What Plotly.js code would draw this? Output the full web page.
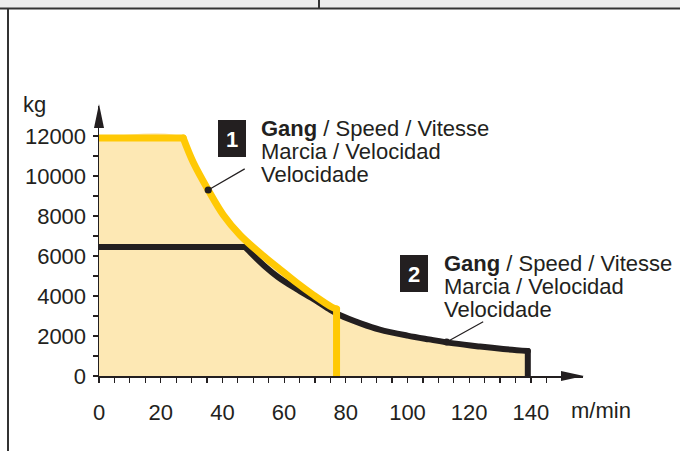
<!DOCTYPE html>
<html><head><meta charset="utf-8">
<script src="https://cdn.plot.ly/plotly-3.0.1.min.js"></script>
<style>
html,body{margin:0;padding:0;background:#fff}#chart{width:680px;height:451px}
.js-line{stroke-linecap:round !important;stroke-linejoin:round !important}
</style>
</head><body><div id="chart"></div>
<script>
// ---- data ----
const gear1Speed = [0, 27.3, 30.5, 35.4, 40.3, 45.7, 53.3, 58.7, 64.1, 69.5, 75.4, 77];
const gear1Load  = [11900, 11900, 10700, 9300, 8050, 7050, 6000, 5330, 4660, 4050, 3450, 3350];
const gear2Speed = [0, 47.3, 54, 58, 64, 70, 75, 78, 85, 91, 100, 107, 115, 123.5, 131, 139];
const gear2Load  = [6450, 6450, 5450, 4950, 4350, 3800, 3300, 3050, 2620, 2320, 2020, 1830, 1630, 1470, 1350, 1250];
const xTickVals = [0, 20, 40, 60, 80, 100, 120, 140];
const xTickText = ['0', '20', '40', '60', '80', '100', '120', '140'];
const xMinorVals = [0,5,10,15,20,25,30,35,40,45,50,55,60,65,70,75,80,85,90,95,100,105,110,115,120,125,130,135,140,145];
const yTickVals = [0, 2000, 4000, 6000, 8000, 10000, 12000];
const yTickText = ['0', '2000', '4000', '6000', '8000', '10000', '12000'];
const yMinorVals = [0,1000,2000,3000,4000,5000,6000,7000,8000,9000,10000,11000,12000];
const yUnit = 'kg';
const xUnit = 'm/min';
const gearNames = ['1', '2'];
const labelLines = ['<b>Gang</b> / Speed / Vitesse', 'Marcia / Velocidad', 'Velocidade'];
const pointer1 = {x: 35.4, y: 9300};
const pointer2 = {x: 112.7, y: 1700};

// ---- styling / layout ----
const W = 680, H = 451;
const M = {l: 99, r: 97, t: 106, b: 75};
const PW = W - M.l - M.r, PH = H - M.t - M.b;
const px = p => (p - M.l) / PW;           // pixel -> paper x
const py = p => (H - M.b - p) / PH;       // pixel -> paper y
const INK = '#231f20', YEL = '#ffc905', FILL = '#fde8b4';
const FONT = 'Liberation Sans, Arial, Helvetica, sans-serif';
const FS = 22;

// union fill: gear 1 envelope up to its end, then gear 2 beyond
const lastG1 = gear1Speed[gear1Speed.length - 1];
const fillX = gear1Speed.concat(gear2Speed.filter(v => v > lastG1));
const fillY = gear1Load.concat(gear2Load.filter((v, i) => gear2Speed[i] > lastG1));

// split a series into its flat part, its curved part and its final drop to zero
function seriesTraces(xs, ys, color, width) {
  let k = 0;
  while (k + 1 < ys.length && ys[k + 1] === ys[0]) k++;
  const n = xs.length - 1;
  const base = {type: 'scatter', mode: 'lines', hoverinfo: 'skip', cliponaxis: true};
  return [
    Object.assign({}, base, {x: xs.slice(0, k + 1), y: ys.slice(0, k + 1), line: {color, width, shape: 'linear'}}),
    Object.assign({}, base, {x: xs.slice(k), y: ys.slice(k), line: {color, width, shape: 'spline', smoothing: 1}}),
    Object.assign({}, base, {x: [xs[n], xs[n]], y: [ys[n], 0], line: {color, width, shape: 'linear'}})
  ];
}

const traces = [
  {x: fillX, y: fillY, type: 'scatter', mode: 'lines', fill: 'tozeroy', fillcolor: FILL,
   line: {width: 0, color: FILL, shape: 'spline', smoothing: 1}, hoverinfo: 'skip'}
].concat(seriesTraces(gear2Speed, gear2Load, INK, 6), seriesTraces(gear1Speed, gear1Load, YEL, 7));

const shapes = [
  {type: 'rect', xref: 'paper', yref: 'paper', x0: px(0), x1: px(680), y0: py(8), y1: py(0), fillcolor: '#ececec', line: {width: 0}, layer: 'below'},
  {type: 'line', xref: 'paper', yref: 'paper', x0: px(0), x1: px(680), y0: py(8.5), y1: py(8.5), line: {color: '#333', width: 2}},
  {type: 'line', xref: 'paper', yref: 'paper', x0: px(8), x1: px(8), y0: py(8.5), y1: py(451), line: {color: '#333', width: 2}},
  {type: 'line', xref: 'paper', yref: 'paper', x0: px(319), x1: px(319), y0: py(0), y1: py(8.5), line: {color: '#333', width: 2}},
  {type: 'path', xref: 'paper', yref: 'paper', path: `M${px(94)},${py(128)} L${px(99)},${py(104)} L${px(104)},${py(128)} Z`, fillcolor: INK, line: {width: 0}},
  {type: 'path', xref: 'paper', yref: 'paper', path: `M${px(561)},${py(371)} L${px(584)},${py(376)} L${px(561)},${py(381)} Z`, fillcolor: INK, line: {width: 0}},
  {type: 'rect', xref: 'paper', yref: 'paper', x0: px(218), x1: px(246), y0: py(157), y1: py(120), fillcolor: INK, line: {width: 0}},
  {type: 'rect', xref: 'paper', yref: 'paper', x0: px(400), x1: px(428), y0: py(292), y1: py(255), fillcolor: INK, line: {width: 0}}
];

const txt = (text, x, y, opts) => Object.assign({
  text, xref: 'paper', yref: 'paper', x: px(x), y: py(y), xanchor: 'left', yanchor: 'middle',
  showarrow: false, font: {family: FONT, size: FS, color: INK}
}, opts || {});

const annotations = [
  txt(yUnit, 21, 104),
  txt(xUnit, 601, 410, {xanchor: 'center'}),
  txt('<b>' + gearNames[0] + '</b>', 232, 139, {xanchor: 'center', font: {family: FONT, size: 22, color: '#fff'}}),
  txt('<b>' + gearNames[1] + '</b>', 414, 274, {xanchor: 'center', font: {family: FONT, size: 22, color: '#fff'}}),
  txt(labelLines[0], 259, 128), txt(labelLines[1], 259, 151), txt(labelLines[2], 259, 174),
  txt(labelLines[0], 442, 263), txt(labelLines[1], 442, 286), txt(labelLines[2], 442, 309),
  {x: pointer1.x, y: pointer1.y, xref: 'x', yref: 'y', text: '', showarrow: true, arrowhead: 6, arrowside: 'end',
   arrowsize: 1.5, arrowwidth: 1.2, arrowcolor: INK, ax: 38, ay: -22, standoff: 0},
  {x: pointer2.x, y: pointer2.y, xref: 'x', yref: 'y', text: '', showarrow: true, arrowhead: 6, arrowside: 'end',
   arrowsize: 1.5, arrowwidth: 1.2, arrowcolor: INK, ax: 38, ay: -21, standoff: 0}
];

const layout = {
  width: W, height: H, margin: M, paper_bgcolor: '#fff', plot_bgcolor: 'rgba(0,0,0,0)',
  showlegend: false,
  font: {family: FONT, size: FS, color: INK},
  xaxis: {range: [0, PW / 3.085], tickmode: 'array', tickvals: xTickVals, ticktext: xTickText,
    showgrid: false, zeroline: false, showline: true, linecolor: INK, linewidth: 1.5,
    ticks: 'outside', ticklen: 5, tickwidth: 1.2, tickcolor: INK, ticklabelstandoff: 11,
    minor: {tickmode: 'array', tickvals: xMinorVals, ticks: 'outside', ticklen: 5, tickwidth: 1.2, tickcolor: INK, showgrid: false},
    tickfont: {family: FONT, size: FS, color: INK}, fixedrange: true},
  yaxis: {range: [0, 13500], tickmode: 'array', tickvals: yTickVals, ticktext: yTickText,
    showgrid: false, zeroline: false, showline: true, linecolor: INK, linewidth: 1.5,
    ticks: 'outside', ticklen: 5, tickwidth: 1.2, tickcolor: INK, ticklabelstandoff: 2,
    minor: {tickmode: 'array', tickvals: yMinorVals, ticks: 'outside', ticklen: 5, tickwidth: 1.2, tickcolor: INK, showgrid: false},
    tickfont: {family: FONT, size: FS, color: INK}, fixedrange: true},
  shapes, annotations
};

Plotly.newPlot('chart', traces, layout, {staticPlot: true, displayModeBar: false});
</script>
</body></html>
